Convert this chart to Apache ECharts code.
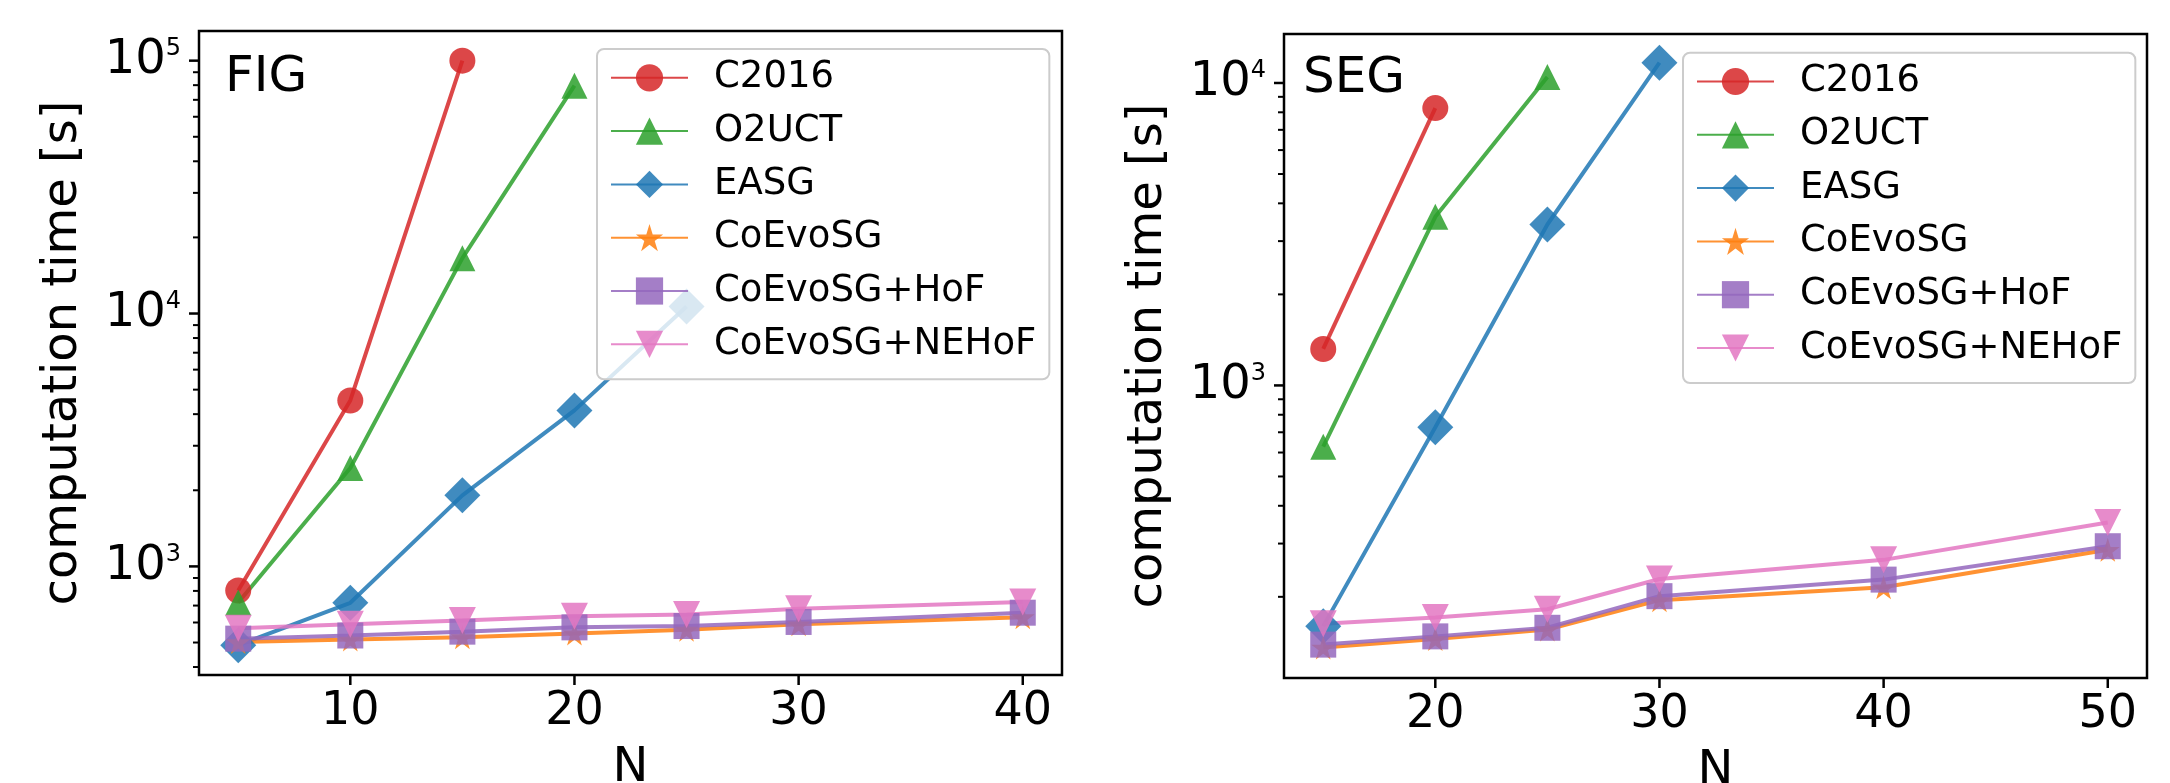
<!DOCTYPE html>
<html><head><meta charset="utf-8">
<script src="https://cdn.jsdelivr.net/npm/echarts@6/dist/echarts.min.js"></script>
<style>html,body{margin:0;padding:0;background:#fff}#c{width:2170px;height:783px}</style>
</head><body><div id="c"></div><script>
// ---- data ----
const seriesNames = ['C2016', 'O2UCT', 'EASG', 'CoEvoSG', 'CoEvoSG+HoF', 'CoEvoSG+NEHoF'];

const nFIG = [5, 10, 15, 20, 25, 30, 40];
const figC2016 = [803, 4530, 100000];
const figO2UCT = [720, 2450, 16560, 79600];
const figEASG = [488, 718, 1910, 4140, 10660];
const figCoEvoSG = [502, 514, 525, 543, 562, 590, 630];
const figHoF = [518, 533, 552, 574, 581, 603, 656];
const figNEHoF = [569, 590, 611, 635, 646, 680, 723];

const nSEG = [15, 20, 25, 30, 40, 50];
const segC2016 = [1320, 8260];
const segO2UCT = [627, 3610, 10470];
const segEASG = [160, 727, 3405, 11670];
const segCoEvoSG = [136, 145, 156, 195, 215, 286];
const segHoF = [139, 148, 158, 201, 228, 294];
const segNEHoF = [163, 171, 182, 229, 265, 352];

const figXTicks = [10, 20, 30, 40];
const segXTicks = [20, 30, 40, 50];
const figYMajor = [1000, 10000, 100000];
const segYMajor = [1000, 10000];
const figYMinor = [400, 500, 600, 700, 800, 900, 2000, 3000, 4000, 5000, 6000, 7000, 8000, 9000,
  20000, 30000, 40000, 50000, 60000, 70000, 80000, 90000];
const segYMinor = [200, 300, 400, 500, 600, 700, 800, 900, 2000, 3000, 4000, 5000, 6000, 7000, 8000, 9000];

// axis extents
const figXRange = [3.25, 41.75];
const segXRange = [13.25, 51.75];
const figYRange = [372, 131000];
const segYRange = [107.8, 14520];

// ---- styles ----
const FONT = 'DejaVu Sans';
const STAR = 'path://M50,0 L61.2,34.5 L97.6,34.5 L68.2,55.9 L79.4,90.5 L50,69.1 L20.6,90.5 L31.8,55.9 L2.4,34.5 L38.8,34.5 Z';
const TRI_DOWN = 'path://M0,0 L20,0 L10,20 Z';
const styleMap = {
  'C2016': { color: '#d62728', symbol: 'circle', size: 26 },
  'O2UCT': { color: '#2ca02c', symbol: 'triangle', size: 26 },
  'EASG': { color: '#1f77b4', symbol: 'diamond', size: 36 },
  'CoEvoSG': { color: '#ff7f0e', symbol: STAR, size: 24 },
  'CoEvoSG+HoF': { color: '#9467bd', symbol: 'rect', size: 26 },
  'CoEvoSG+NEHoF': { color: '#e377c2', symbol: TRI_DOWN, size: 27 }
};

function mk(name, xs, ys, xi, yi) {
  const s = styleMap[name];
  return {
    type: 'line', name: name, xAxisIndex: xi, yAxisIndex: yi,
    data: ys.map((v, i) => [xs[i], v]),
    symbol: s.symbol, symbolSize: s.size, showSymbol: true, showAllSymbol: true,
    itemStyle: { color: s.color, opacity: 0.85 },
    lineStyle: { color: s.color, width: 4, opacity: 0.85 },
    emphasis: { disabled: true },
    animation: false
  };
}

// tick marks placed through the axis scales (custom series, drawn outside the plot frame)
function yTicks(xi, yi, xMin, vals, len, w) {
  return {
    type: 'custom', xAxisIndex: xi, yAxisIndex: yi, clip: false, silent: true, z: 20, zlevel: 1,
    data: vals.map(v => [xMin, v]),
    encode: { x: 0, y: 1 },
    renderItem: function (params, api) {
      const p = api.coord([api.value(0), api.value(1)]);
      return { type: 'rect', shape: { x: p[0] - len, y: p[1] - w / 2, width: len, height: w }, style: { fill: '#000' } };
    },
    animation: false
  };
}
function xTicks(xi, yi, yMin, vals, len, w) {
  return {
    type: 'custom', xAxisIndex: xi, yAxisIndex: yi, clip: false, silent: true, z: 20, zlevel: 1,
    data: vals.map(v => [v, yMin]),
    encode: { x: 0, y: 1 },
    renderItem: function (params, api) {
      const p = api.coord([api.value(0), api.value(1)]);
      return { type: 'rect', shape: { x: p[0] - w / 2, y: p[1], width: w, height: len }, style: { fill: '#000' } };
    },
    animation: false
  };
}

const figSeriesData = [figC2016, figO2UCT, figEASG, figCoEvoSG, figHoF, figNEHoF];
const segSeriesData = [segC2016, segO2UCT, segEASG, segCoEvoSG, segHoF, segNEHoF];
const series = [];
seriesNames.forEach((nm, k) => series.push(mk(nm, nFIG, figSeriesData[k], 0, 0)));
seriesNames.forEach((nm, k) => series.push(mk(nm, nSEG, segSeriesData[k], 1, 1)));
series.push(yTicks(0, 0, figXRange[0], figYMajor, 10, 2.5));
series.push(yTicks(0, 0, figXRange[0], figYMinor, 6, 2));
series.push(yTicks(1, 1, segXRange[0], segYMajor, 10, 2.5));
series.push(yTicks(1, 1, segXRange[0], segYMinor, 6, 2));
series.push(xTicks(0, 0, figYRange[0], figXTicks, 10, 2.5));
series.push(xTicks(1, 1, segYRange[0], segXTicks, 10, 2.5));

function xAxis(gi, range, ticks) {
  return {
    type: 'value', gridIndex: gi, min: range[0], max: range[1], position: 'bottom',
    name: 'N', nameLocation: 'middle', nameGap: 70,
    nameTextStyle: { fontFamily: FONT, fontSize: 48, color: '#000' },
    axisLine: { show: false },
    splitLine: { show: false },
    axisTick: { show: false },
    axisLabel: { customValues: ticks, fontFamily: FONT, fontSize: 46, color: '#000', margin: 14 }
  };
}
function yAxis(gi, range, ticks) {
  return {
    type: 'log', logBase: 10, gridIndex: gi, min: range[0], max: range[1], position: 'left',
    name: 'computation time [s]', nameLocation: 'middle', nameGap: 111,
    nameTextStyle: { fontFamily: FONT, fontSize: 48, color: '#000' },
    axisLine: { show: false },
    splitLine: { show: false },
    axisTick: { show: false },
    axisLabel: {
      customValues: ticks, margin: 18, color: '#000',
      formatter: function (v) { return '{b|10}{s|' + Math.round(Math.log10(v)) + '}'; },
      rich: {
        b: { fontFamily: FONT, fontSize: 48, color: '#000' },
        s: { fontFamily: FONT, fontSize: 24, color: '#000', verticalAlign: 'top' }
      }
    }
  };
}
function legend(left, top) {
  return {
    orient: 'vertical', left: left, top: top,
    data: seriesNames, selectedMode: false,
    itemWidth: 77, itemHeight: 34, itemGap: 16.3,
    padding: [10.3, 13, 16.5, 13],
    backgroundColor: 'rgba(255,255,255,0.8)', borderColor: '#cccccc', borderWidth: 2, borderRadius: 7,
    textStyle: { fontFamily: FONT, fontSize: 37, color: '#000', padding: [0, 0, 0, 21] }
  };
}

const chart = echarts.init(document.getElementById('c'), null, { renderer: 'canvas' });
chart.setOption({
  backgroundColor: '#fff',
  animation: false,
  grid: [
    { left: 199, top: 31, width: 863, height: 644, show: true, borderColor: '#000', borderWidth: 2.5,
      backgroundColor: 'transparent', containLabel: false, outerBoundsMode: 'none' },
    { left: 1284, top: 34, width: 863, height: 644, show: true, borderColor: '#000', borderWidth: 2.5,
      backgroundColor: 'transparent', containLabel: false, outerBoundsMode: 'none' }
  ],
  xAxis: [xAxis(0, figXRange, figXTicks), xAxis(1, segXRange, segXTicks)],
  yAxis: [yAxis(0, figYRange, figYMajor), yAxis(1, segYRange, segYMajor)],
  legend: [legend(597, 49), legend(1683, 52.7)],
  graphic: [
    { type: 'text', style: { x: 225, y: 78.5, text: 'FIG', fontFamily: FONT, fontSize: 50, fill: '#000', verticalAlign: 'middle' }, z: 10 },
    { type: 'text', style: { x: 1303, y: 78.7, text: 'SEG', fontFamily: FONT, fontSize: 50, fill: '#000', verticalAlign: 'middle' }, z: 10 }
  ],
  series: series
});
</script></body></html>
